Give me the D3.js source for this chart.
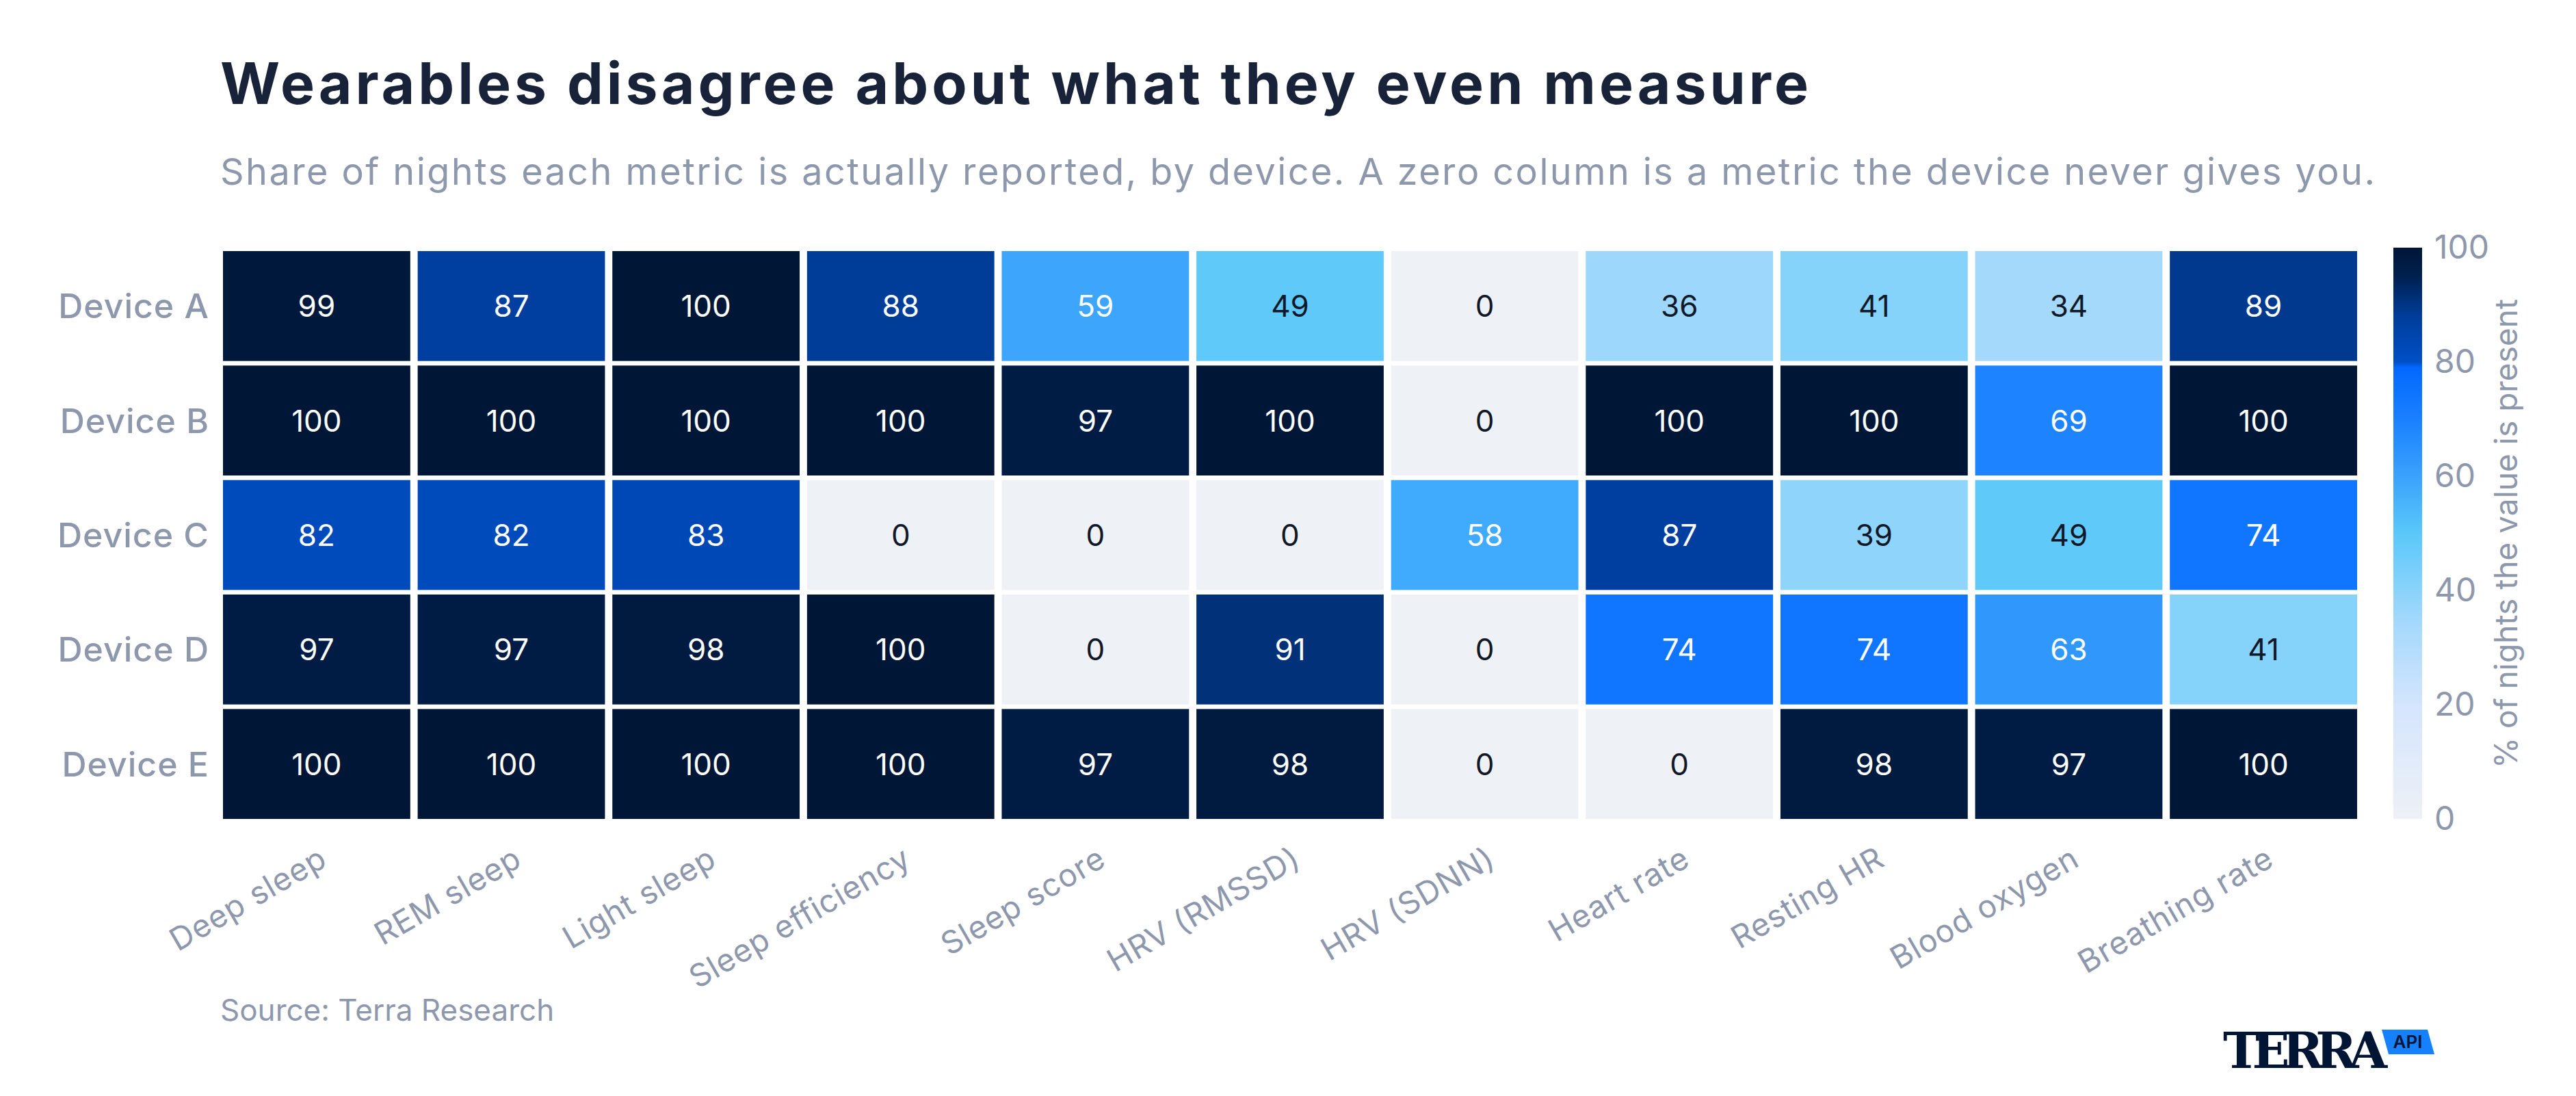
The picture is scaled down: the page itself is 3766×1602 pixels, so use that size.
<!DOCTYPE html>
<html><head><meta charset="utf-8">
<script src="https://cdn.jsdelivr.net/npm/d3@7"></script>
<style>body{margin:0;background:#fff}text{font-family:Inter,"Noto Sans",sans-serif}</style>
</head><body><div id="chart"></div>
<script>
// data
var devices = ["Device A", "Device B", "Device C", "Device D", "Device E"];
var metrics = ["Deep sleep", "REM sleep", "Light sleep", "Sleep efficiency", "Sleep score", "HRV (RMSSD)", "HRV (SDNN)", "Heart rate", "Resting HR", "Blood oxygen", "Breathing rate"];
var deviceA = [99, 87, 100, 88, 59, 49, 0, 36, 41, 34, 89];
var deviceB = [100, 100, 100, 100, 97, 100, 0, 100, 100, 69, 100];
var deviceC = [82, 82, 83, 0, 0, 0, 58, 87, 39, 49, 74];
var deviceD = [97, 97, 98, 100, 0, 91, 0, 74, 74, 63, 41];
var deviceE = [100, 100, 100, 100, 97, 98, 0, 0, 98, 97, 100];
var colorTicks = [0, 20, 40, 60, 80, 100];

var rows = [deviceA, deviceB, deviceC, deviceD, deviceE];
var cells = [];
rows.forEach(function(r, i){
	r.forEach(function(v, j){ cells.push({device: devices[i], metric: metrics[j], value: v}); });
});

var W = 3766, H = 1602;
var svg = d3.select("#chart").append("svg").attr("width", W).attr("height", H);

var x = d3.scaleBand().domain(metrics).range([326, 3446]).paddingInner(0.038);
var y = d3.scaleBand().domain(devices).range([367, 1197]).paddingInner(0.04);

// piecewise blue scale, with the jump at 80
var color = d3.scaleLinear()
	.domain([0, 20, 35, 50, 60, 70, 79.99, 80, 88, 95, 100])
	.range(["#eef1f6", "#d4e5fd", "#a2d8fc", "#5ac8fa", "#3aa2fc", "#1a80ff", "#0066ff", "#004fc6", "#003d99", "#00204f", "#001636"])
	.clamp(true);

// title
svg.append("text").attr("x", 322).attr("y", 152).attr("font-size", 84).attr("font-weight", 700)
	.attr("fill", "#18233a").attr("textLength", 2322).text("Wearables disagree about what they even measure");
svg.append("text").attr("x", 322).attr("y", 270).attr("font-size", 54).attr("fill", "#8e98ad")
	.attr("textLength", 3150).text("Share of nights each metric is actually reported, by device. A zero column is a metric the device never gives you.");

// cells
var g = svg.append("g");
g.selectAll("rect").data(cells).enter().append("rect")
	.attr("x", function(d){ return x(d.metric); })
	.attr("y", function(d){ return y(d.device); })
	.attr("width", x.bandwidth()).attr("height", y.bandwidth())
	.attr("fill", function(d){ return color(d.value); });
g.selectAll("text").data(cells).enter().append("text")
	.attr("x", function(d){ return x(d.metric) + x.bandwidth()/2; })
	.attr("y", function(d){ return y(d.device) + y.bandwidth()/2; })
	.attr("text-anchor", "middle").attr("dy", "0.36em").attr("font-size", 44)
	.attr("fill", function(d){ return d.value >= 55 ? "#ffffff" : "#111827"; })
	.text(function(d){ return d.value; });

// axes
svg.append("g").selectAll("text").data(devices).enter().append("text")
	.attr("x", 306).attr("y", function(d){ return y(d) + y.bandwidth()/2; })
	.attr("dy", "0.36em").attr("text-anchor", "end").attr("font-size", 50).attr("font-weight", 500)
	.attr("fill", "#8e98ad").attr("letter-spacing", 1).text(function(d){ return d; });
svg.append("g").selectAll("text").data(metrics).enter().append("text")
	.attr("transform", function(d){ return "translate(" + (x(d) + x.bandwidth()/2 + 2) + ",1236) rotate(-30)"; })
	.attr("text-anchor", "end").attr("dy", "0.7em").attr("font-size", 46).attr("letter-spacing", 1)
	.attr("fill", "#8e98ad").text(function(d){ return d; });

// colorbar
var cy = d3.scaleLinear().domain([0, 100]).range([1197, 362]);
var grad = svg.append("defs").append("linearGradient").attr("id", "cb")
	.attr("x1", 0).attr("y1", 1).attr("x2", 0).attr("y2", 0);
d3.range(0, 101, 1).forEach(function(v){
	grad.append("stop").attr("offset", v/100).attr("stop-color", color(v));
});
svg.append("rect").attr("x", 3499).attr("y", 362).attr("width", 42).attr("height", 835).attr("fill", "url(#cb)");
svg.append("g").attr("transform", "translate(3541,0)")
	.call(d3.axisRight(cy).tickValues(colorTicks).tickSize(0).tickPadding(18))
	.call(function(a){
		a.select(".domain").remove();
		a.selectAll("text").attr("font-size", 48).attr("fill", "#8e98ad").style("font-family", "Inter,'Noto Sans',sans-serif");
	});
svg.append("text").attr("transform", "translate(3680,780) rotate(-90)").attr("text-anchor", "middle")
	.attr("font-size", 46).attr("fill", "#8e98ad").text("% of nights the value is present");

// source + logo
svg.append("text").attr("x", 322).attr("y", 1492).attr("font-size", 44).attr("fill", "#8e98ad").text("Source: Terra Research");
var logo = svg.append("g");
logo.append("polygon").attr("points", "3482,1505 3549,1505 3559,1541 3492,1541").attr("fill", "#1681ff");
logo.append("text").attr("x", 3520).attr("y", 1532).attr("text-anchor", "middle").attr("font-size", 26)
	.attr("font-weight", 600).attr("fill", "#001533").text("API");
logo.append("text").attr("x", 3250).attr("y", 1561).attr("font-size", 72).attr("font-weight", 900)
	.attr("fill", "#001533").style("font-family", "'DejaVu Serif',serif").attr("textLength", 240).text("TERRA");
</script></body></html>
